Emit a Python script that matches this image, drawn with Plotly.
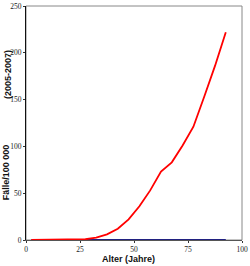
import plotly.graph_objects as go

ages = [2.5, 7.5, 12.5, 17.5, 22.5, 27.5, 32.5, 37.5, 42.5, 47.5, 52.5, 57.5,
        62.5, 67.5, 72.5, 77.5, 82.5, 87.5, 92.5]
red_values = [0, 0, 0, 0, 0.2, 0.8, 2.5, 6, 12, 22, 36, 53,
              73, 83, 101, 121, 153, 186, 222]
blue_values = [0] * len(ages)
x_ticks = [0, 25, 50, 75, 100]
y_ticks = [0, 50, 100, 150, 200, 250]

fig = go.Figure()
fig.add_trace(go.Scatter(x=ages, y=blue_values, mode="lines", cliponaxis=False,
                         line=dict(color="#202080", width=2), showlegend=False))
fig.add_trace(go.Scatter(x=ages, y=red_values, mode="lines", cliponaxis=False,
                         line=dict(color="#ff0000", width=1.8), showlegend=False))

tick_font = dict(family="Liberation Serif", size=7.5, color="#222")
fig.update_layout(
    width=250, height=266,
    margin=dict(l=26, r=6, t=2, b=26),
    paper_bgcolor="white", plot_bgcolor="white",
    xaxis=dict(range=[0, 100], tickvals=x_ticks, ticks="outside", ticklen=2,
               tickcolor="#333", showgrid=False, zeroline=False, showline=True,
               linecolor="#555", linewidth=1, tickfont=tick_font,
               ticklabeloverflow="allow", layer="below traces"),
    yaxis=dict(range=[0, 250], tickvals=y_ticks, ticks="outside", ticklen=2,
               tickcolor="#333", showgrid=False, zeroline=False, showline=True,
               linecolor="#111", linewidth=1, tickfont=tick_font,
               ticklabeloverflow="allow", layer="below traces"),
    shapes=[dict(type="rect", xref="paper", yref="paper", x0=0, y0=0, x1=1, y1=1,
                 line=dict(color="#888", width=1), layer="below")],
    annotations=[
        dict(text="<b>Alter (Jahre)</b>", xref="paper", yref="paper",
             x=(129 - 26) / 218, y=-(259 - 240) / 238, showarrow=False,
             font=dict(family="Liberation Sans", size=9, color="#111"),
             xanchor="center", yanchor="middle"),
        dict(text="<b>Fälle/100 000</b>", xref="paper", yref="paper",
             x=-(26 - 6) / 218, y=(240 - 171) / 238, showarrow=False, textangle=-90,
             font=dict(family="Liberation Sans", size=9, color="#111"),
             xanchor="center", yanchor="middle"),
        dict(text="<b>(2005-2007)</b>", xref="paper", yref="paper",
             x=-(26 - 8) / 218, y=(240 - 72) / 238, showarrow=False, textangle=-90,
             font=dict(family="Liberation Sans", size=9, color="#111"),
             xanchor="center", yanchor="middle"),
    ],
)
fig.write_html("out.html")
